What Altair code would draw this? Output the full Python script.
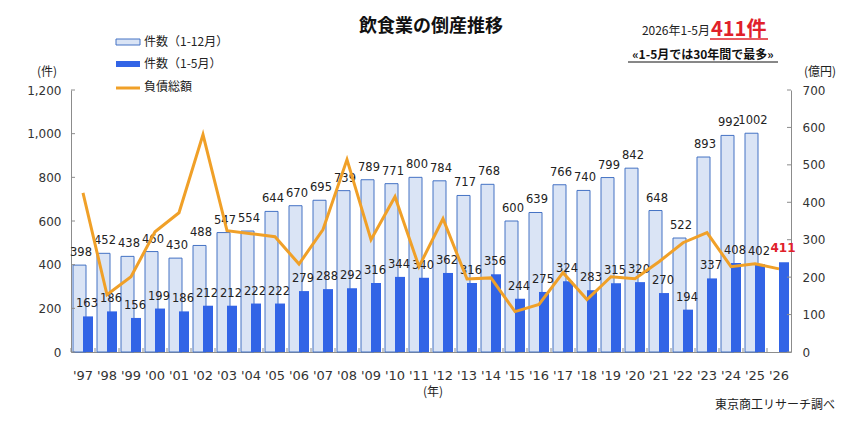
import altair as alt
import pandas as pd

years = ["'97", "'98", "'99", "'00", "'01", "'02", "'03", "'04", "'05", "'06",
         "'07", "'08", "'09", "'10", "'11", "'12", "'13", "'14", "'15", "'16",
         "'17", "'18", "'19", "'20", "'21", "'22", "'23", "'24", "'25", "'26"]
annual = [398, 452, 438, 460, 430, 488, 547, 554, 644, 670,
          695, 739, 789, 771, 800, 784, 717, 768, 600, 639,
          766, 740, 799, 842, 648, 522, 893, 992, 1002, None]
jan_may = [163, 186, 156, 199, 186, 212, 212, 222, 222, 279,
           288, 292, 316, 344, 340, 362, 316, 356, 244, 275,
           324, 283, 315, 320, 270, 194, 337, 408, 402, 411]
debt = [425, 153, 201, 321, 372, 581, 324, 316, 308, 235,
        327, 514, 300, 415, 228, 356, 195, 198, 108, 127,
        212, 140, 201, 196, 241, 292, 319, 228, 236, 222]
left_ticks = [0, 200, 400, 600, 800, 1000, 1200]
right_ticks = [0, 100, 200, 300, 400, 500, 600, 700]

JP = "Noto Sans CJK JP"
NUM = "DejaVu Sans"
LIGHT = "#dae4f5"
EDGE = "#4472c4"
DARK = "#3264e6"
ORANGE = "#f0a028"

df = pd.DataFrame({"year": years, "annual": annual, "jan_may": jan_may, "debt": debt})
base = alt.Chart(df)

xscale = alt.Scale(paddingInner=0, paddingOuter=0)
xaxis = alt.Axis(title=None, labelAngle=0, labelFontSize=13, labelPadding=17, ticks=False,
                 domainColor="#8c8c8c", labelColor="#333333", labelFont=NUM)
X = alt.X("year:N", sort=None, scale=xscale, axis=xaxis)

lscale = alt.Scale(domain=[0, 1200], nice=False)
laxis = alt.Axis(values=left_ticks, labelExpr="format(datum.value, ',')", title=None,
                 grid=False, ticks=False, labelPadding=10, domainColor="#8c8c8c",
                 labelFontSize=12, labelColor="#333333", labelFont=NUM)
rscale = alt.Scale(domain=[0, 700], nice=False)
raxis = alt.Axis(values=right_ticks, title=None, grid=False, ticks=False, orient="right",
                 labelPadding=11, domainColor="#8c8c8c", labelFontSize=12,
                 labelColor="#333333", labelFont=NUM)

light = base.transform_filter("isValid(datum.annual)").mark_bar(
    width=13, xOffset=-3.5, fill=LIGHT, stroke=EDGE, strokeWidth=1
).encode(x=X, y=alt.Y("annual:Q", scale=lscale, axis=laxis))

dark = base.mark_bar(width=10, xOffset=5, color=DARK).encode(
    x=X, y=alt.Y("jan_may:Q", scale=lscale, axis=laxis))

light_lbl = base.transform_filter("isValid(datum.annual)").mark_text(
    font=NUM, fontSize=11.5, color="#222222", baseline="bottom", dy=-7, xOffset=-2
).encode(x=X, y=alt.Y("annual:Q", scale=lscale, axis=laxis), text="annual:Q")

dark_lbl = base.transform_filter("isValid(datum.annual)").mark_text(
    font=NUM, fontSize=11.5, color="#222222", baseline="bottom", dy=-7, xOffset=4
).encode(x=X, y=alt.Y("jan_may:Q", scale=lscale, axis=laxis), text="jan_may:Q")

last_lbl = base.transform_filter("!isValid(datum.annual)").mark_text(
    font=NUM, fontSize=12, fontWeight="bold", color="#e0202a", baseline="bottom", dy=-7, xOffset=4
).encode(x=X, y=alt.Y("jan_may:Q", scale=lscale, axis=laxis), text="jan_may:Q")

lticks = alt.Chart(pd.DataFrame({"v": left_ticks})).mark_rule(color="#8c8c8c").encode(
    x=alt.value(0), x2=alt.value(4), y=alt.Y("v:Q", scale=lscale, axis=laxis))

xticks = base.mark_rule(color="#8c8c8c").encode(
    x=alt.X("year:N", sort=None, scale=xscale, axis=xaxis, bandPosition=0),
    y=alt.value(262), y2=alt.value(258))

count_group = alt.layer(light, dark, light_lbl, dark_lbl, last_lbl, lticks, xticks)

line = base.mark_line(color=ORANGE, strokeWidth=3).encode(
    x=X, y=alt.Y("debt:Q", scale=rscale, axis=raxis))
rticks = alt.Chart(pd.DataFrame({"v": right_ticks})).mark_rule(color="#8c8c8c").encode(
    x=alt.value(720), x2=alt.value(716), y=alt.Y("v:Q", scale=rscale, axis=raxis))
line_group = alt.layer(line, rticks)

one = pd.DataFrame({"a": [0]})


def txt(s, x, y, size=12, align="center", color="#222222", weight="normal", font=JP, baseline="middle"):
    return alt.Chart(one).mark_text(font=font, fontSize=size, align=align, color=color,
                                    fontWeight=weight, baseline=baseline).encode(
        x=alt.value(x), y=alt.value(y), text=alt.value(s))


def box(x, x2, y, y2, fill, stroke=None):
    kw = {"fill": fill}
    if stroke:
        kw["stroke"] = stroke
        kw["strokeWidth"] = 1
    return alt.Chart(one).mark_rect(**kw).encode(
        x=alt.value(x), x2=alt.value(x2), y=alt.value(y), y2=alt.value(y2))


def hline(x, x2, y, color, width):
    return alt.Chart(one).mark_rule(color=color, strokeWidth=width).encode(
        x=alt.value(x), x2=alt.value(x2), y=alt.value(y))


annotations = [
    txt("飲食業の倒産推移", 360, -63, size=18, weight="bold", color="#111111"),
    txt("2026年1-5月", 639, -55, size=12, align="right", baseline="alphabetic"),
    txt("411件", 640, -54, size=20, align="left", weight="bold", color="#e0202a", baseline="alphabetic"),
    hline(639, 697, -51, "#e0202a", 1.5),
    txt("«1-5月では30年間で最多»", 632, -35, size=12, weight="bold", color="#111111"),
    hline(557, 707, -28, "#111111", 1),
    box(45, 69, -51, -45, LIGHT, EDGE),
    box(45, 69, -29, -23, DARK),
    hline(45, 69, -2, ORANGE, 3),
    txt("件数（1-12月）", 73, -48, align="left"),
    txt("件数（1-5月）", 73, -26, align="left"),
    txt("負債総額", 73, -3, align="left"),
    txt("(件)", -24, -18),
    txt("(億円)", 749, -18),
    txt("(年)", 362, 302),
    txt("東京商工リサーチ調べ", 764, 315, align="right"),
]

chart = alt.layer(count_group, line_group, *annotations).resolve_scale(
    y="independent"
).properties(
    width=720, height=262,
    padding={"left": 63, "top": 82, "right": 45, "bottom": 60},
    autosize=alt.AutoSizeParams(type="none"),
    background="white",
).configure_view(stroke=None)

chart.save("out.html", embed_options={"renderer": "svg", "actions": False})
